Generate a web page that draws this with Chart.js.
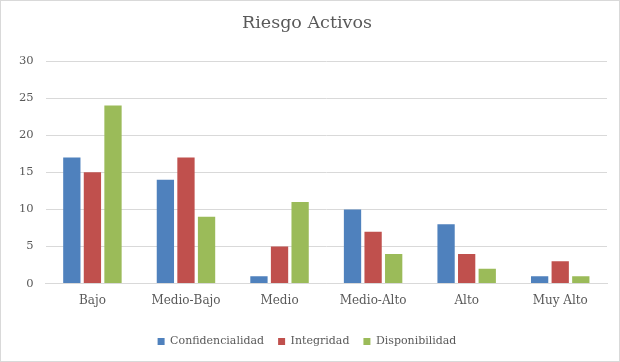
<!DOCTYPE html>
<html>
<head>
<meta charset="utf-8">
<script src="https://cdn.jsdelivr.net/npm/chart.js"></script>
<style>
body{margin:0;background:#fff;}
#wrap{width:618px;height:360px;border:1px solid #d9d9d9;position:relative;}
</style>
</head>
<body>
<div id="wrap"><canvas id="myBarChart" width="618" height="360"></canvas></div>
<script>
const categories=['Bajo','Medio-Bajo','Medio','Medio-Alto','Alto','Muy Alto'];
const confidencialidad=[17,14,1,10,8,1];
const integridad=[15,17,5,7,4,3];
const disponibilidad=[24,9,11,4,2,1];
const seriesNames=['Confidencialidad','Integridad','Disponibilidad'];

let myBarChart=document.getElementById("myBarChart").getContext('2d');
const fontFam="'DejaVu Serif', serif";
new Chart(myBarChart,{
	type:'bar',
	data:{
		labels:categories,
		datasets:[
			{label:seriesNames[0],data:confidencialidad,backgroundColor:'#4f81bd'},
			{label:seriesNames[1],data:integridad,backgroundColor:'#c0504d'},
			{label:seriesNames[2],data:disponibilidad,backgroundColor:'#9bbb59'}
		]
	},
	options:{
		responsive:false,
		animation:false,
		categoryPercentage:0.66,
		barPercentage:0.84,
		layout:{padding:{left:6,right:12,top:8,bottom:4}},
		plugins:{
			title:{
				display:true,
				text:'Riesgo Activos',
				color:'#595959',
				font:{family:fontFam,size:17.5,weight:'normal'},
				padding:{top:4,bottom:27}
			},
			legend:{
				position:'bottom',
				labels:{
					boxWidth:7,
					boxHeight:7,
					color:'#595959',
					font:{family:fontFam,size:11},
					padding:14
				}
			},
			tooltip:{enabled:false}
		},
		scales:{
			x:{
				grid:{display:false},
				border:{color:'#d9d9d9'},
				ticks:{color:'#595959',font:{family:fontFam,size:12},padding:2},
				afterFit:function(scale){scale.height+=12;}
			},
			y:{
				min:0,
				max:30,
				ticks:{stepSize:5,color:'#595959',font:{family:fontFam,size:11.5},padding:12},
				grid:{color:'#d9d9d9',drawTicks:false},
				border:{display:false}
			}
		}
	}
});
</script>
</body>
</html>
